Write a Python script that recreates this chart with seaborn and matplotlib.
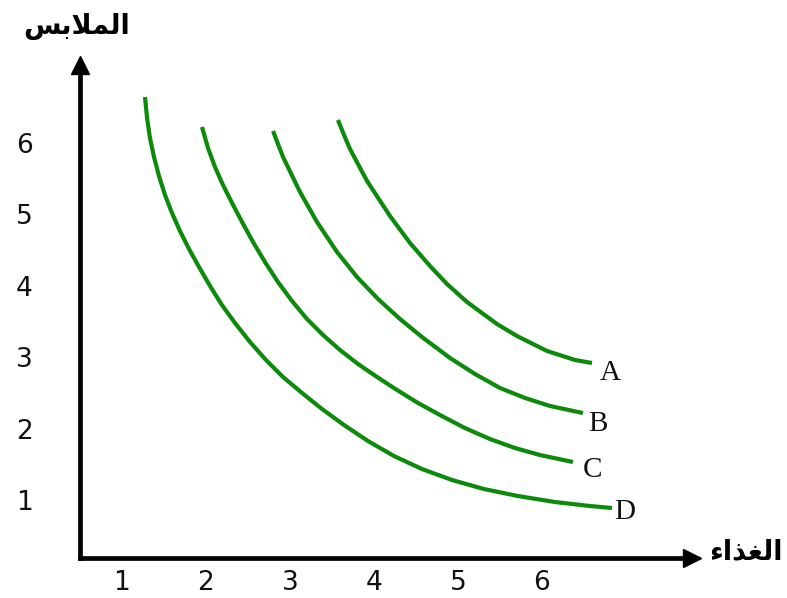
import matplotlib
matplotlib.use("Agg")
import matplotlib.pyplot as plt
import seaborn as sns
import pandas as pd

# Indifference curves: quantity of food (x) against quantity of clothing (y)
food_A = [3.571, 3.643, 3.714, 3.917, 4.190, 4.429, 4.667, 4.869, 5.107,
          5.464, 5.702, 6.060, 6.393, 6.595]
clothes_A = [6.322, 6.112, 5.916, 5.468, 4.978, 4.599, 4.277, 4.025, 3.773,
             3.465, 3.297, 3.087, 2.961, 2.919]

food_B = [2.798, 2.857, 2.917, 3.119, 3.321, 3.560, 3.798, 4.048, 4.310,
          4.571, 4.905, 5.202, 5.500, 5.798, 6.095, 6.488]
clothes_B = [6.168, 5.986, 5.804, 5.314, 4.894, 4.473, 4.123, 3.815, 3.535,
             3.283, 2.989, 2.765, 2.569, 2.429, 2.317, 2.218]

food_C = [1.952, 2.024, 2.107, 2.202, 2.310, 2.429, 2.560, 2.702, 2.857,
          3.024, 3.202, 3.393, 3.595, 3.810, 4.036, 4.274, 4.524, 4.786,
          5.083, 5.381, 5.679, 5.976, 6.369]
clothes_C = [6.224, 5.930, 5.664, 5.412, 5.160, 4.894, 4.613, 4.333, 4.053,
             3.787, 3.535, 3.311, 3.101, 2.905, 2.723, 2.541, 2.359, 2.190,
             2.008, 1.854, 1.728, 1.630, 1.532]

food_D = [1.274, 1.298, 1.333, 1.381, 1.440, 1.512, 1.595, 1.690, 1.798,
          1.917, 2.048, 2.190, 2.345, 2.524, 2.714, 2.917, 3.143, 3.381,
          3.643, 3.929, 4.238, 4.571, 4.929, 5.310, 5.714, 6.155, 6.571, 6.833]
clothes_D = [6.644, 6.350, 6.070, 5.804, 5.538, 5.272, 5.020, 4.768, 4.515,
             4.263, 3.997, 3.731, 3.479, 3.213, 2.961, 2.723, 2.499, 2.275,
             2.050, 1.826, 1.616, 1.434, 1.280, 1.154, 1.056, 0.972, 0.916, 0.888]

curve_names = ["A", "B", "C", "D"]
x_ticks = [1, 2, 3, 4, 5, 6]
y_ticks = [1, 2, 3, 4, 5, 6]

# Axis titles, written as Arabic presentation forms in visual (left-to-right) order
# so that they join correctly without a text shaping engine.
# "الملابس"
y_title = "\uFEB2\uFE91\uFEFC\uFEE4\uFEDF\uFE8D"
# "الغذاء"
x_title = "\uFE80\uFE8D\uFEAC\uFED0\uFEDF\uFE8D"

curves = {
    "A": (food_A, clothes_A),
    "B": (food_B, clothes_B),
    "C": (food_C, clothes_C),
    "D": (food_D, clothes_D),
}
frames = []
for name in curve_names:
    fx, fy = curves[name]
    frames.append(pd.DataFrame({"food": fx, "clothes": fy, "curve": name}))
df = pd.concat(frames, ignore_index=True)

sns.set_style("white")
plt.rcParams["font.family"] = ["DejaVu Sans"]

W, H = 787, 598
fig = plt.figure(figsize=(W / 100, H / 100), dpi=100)
# axes box in pixels: origin (80, 557.5), right end 692, top end 65
ax = fig.add_axes([80 / W, (H - 557.5) / H, (692 - 80) / W, (557.5 - 65) / H])

green = "#0c8a0c"
sns.lineplot(data=df, x="food", y="clothes", hue="curve",
             palette={n: green for n in curve_names},
             sort=False, estimator=None, legend=False,
             linewidth=3.0, ax=ax)
for line in ax.get_lines():
    line.set_solid_joinstyle("round")
    line.set_solid_capstyle("butt")

ax.set_xlim(0.5, 7.786)
ax.set_ylim(0.195, 7.092)

for side in ("top", "right"):
    ax.spines[side].set_visible(False)
for side in ("left", "bottom"):
    ax.spines[side].set_linewidth(3.4)
    ax.spines[side].set_color("black")

# arrow heads at the ends of both axes
ax.plot(1, 0, marker=">", color="black", markersize=13,
        transform=ax.transAxes, clip_on=False)
ax.plot(0, 1, marker="^", color="black", markersize=13,
        transform=ax.transAxes, clip_on=False)

ax.set_xticks(x_ticks)
ax.set_yticks(y_ticks)
ax.set_xticklabels([str(t) for t in x_ticks])
ax.set_yticklabels([str(t) for t in y_ticks])
ax.tick_params(axis="both", length=0, labelsize=19, colors="#111111")
ax.tick_params(axis="x", pad=9)
ax.tick_params(axis="y", pad=40)
for lab in ax.get_yticklabels():
    lab.set_horizontalalignment("center")
ax.set_xlabel("")
ax.set_ylabel("")
ax.grid(False)

# curve names next to the right-hand end of each curve
label_offsets = {"A": (13, -7), "B": (11, -8), "C": (14, -6), "D": (9, -3)}
for name in curve_names:
    fx, fy = curves[name]
    dx, dy = label_offsets[name]
    ax.annotate(name, xy=(fx[-1], fy[-1]), xytext=(dx, dy),
                textcoords="offset points", ha="center", va="center",
                fontsize=21, family="Liberation Serif", color="#111111",
                annotation_clip=False)

fig.text(77 / W, 1 - 26 / H, y_title, ha="center", va="center",
         fontsize=19.5, fontweight="bold", color="black")
fig.text(746 / W, 1 - 552 / H, x_title, ha="center", va="center",
         fontsize=19.5, fontweight="bold", color="black")

fig.savefig("out.png", dpi=100, facecolor="white")
